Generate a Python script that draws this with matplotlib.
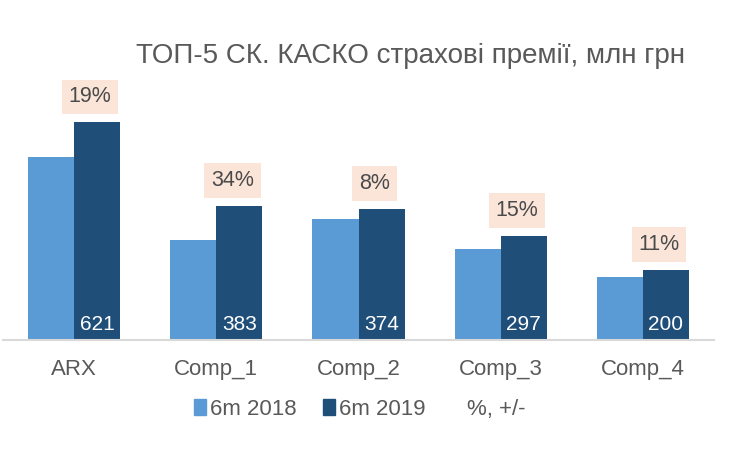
import numpy as np
import matplotlib
matplotlib.use("Agg")
import matplotlib.pyplot as plt
from matplotlib.patches import Patch
from matplotlib import font_manager

# data
companies = ["ARX", "Comp_1", "Comp_2", "Comp_3", "Comp_4"]
prem_2018 = [522, 286, 346, 258, 180]
prem_2019 = [621, 383, 374, 297, 200]
growth = ["19%", "34%", "8%", "15%", "11%"]

names = {f.name for f in font_manager.fontManager.ttflist}
fam = ["Liberation Sans Narrow", "Liberation Sans", "DejaVu Sans"]
fam = [f for f in fam if f in names]
plt.rcParams["font.family"] = fam

c_light = "#5B9BD5"
c_dark = "#1F4E79"
c_text = "#595959"
c_box = "#FBE5D9"

fig = plt.figure(figsize=(7.5, 4.59), dpi=100)
ax = fig.add_axes([0.004, 0.2593, 0.948, 0.6103])

x = np.arange(len(companies))
w = 0.324
ax.bar(x - w / 2, prem_2018, w, color=c_light, label="6m 2018")
bars = ax.bar(x + w / 2, prem_2019, w, color=c_dark, label="6m 2019")

for b, v, g in zip(bars, prem_2019, growth):
    cx = b.get_x() + b.get_width() / 2
    ax.annotate(str(v), (cx, 0), xytext=(0, 4), textcoords="offset points",
                ha="center", va="bottom", color="white", fontsize=15)
    ax.annotate(g, (cx, v), xytext=(-5, 18), textcoords="offset points",
                ha="center", va="center", color="#4a4a4a", fontsize=15.5,
                bbox=dict(boxstyle="square,pad=0.32", fc=c_box, ec="none"),
                annotation_clip=False)

ax.set_xlim(-0.5, 4.5)
ax.set_ylim(0, 798)
ax.set_xticks(x)
ax.set_xticklabels(companies, fontsize=16, color=c_text)
ax.tick_params(axis="x", length=0, pad=14)
ax.set_yticks([])
for s in ["top", "right", "left"]:
    ax.spines[s].set_visible(False)
ax.spines["bottom"].set_color("#D9D9D9")
ax.spines["bottom"].set_linewidth(1.5)

fig.text(0.913, 0.8627, "ТОП-5 СК. КАСКО страхові премії, млн грн",
         ha="right", va="baseline", fontsize=20, color=c_text)

handles = [Patch(color=c_light), Patch(color=c_dark), Patch(fc="none", ec="none")]
fig.legend(handles, ["6m 2018", "6m 2019", "%, +/-"], loc="center",
           bbox_to_anchor=(0.48, 0.108), ncol=3, frameon=False, fontsize=16,
           labelcolor=c_text, handlelength=0.55, handleheight=0.7,
           handletextpad=0.15, columnspacing=1.2)

fig.savefig("out.png", dpi=100)
